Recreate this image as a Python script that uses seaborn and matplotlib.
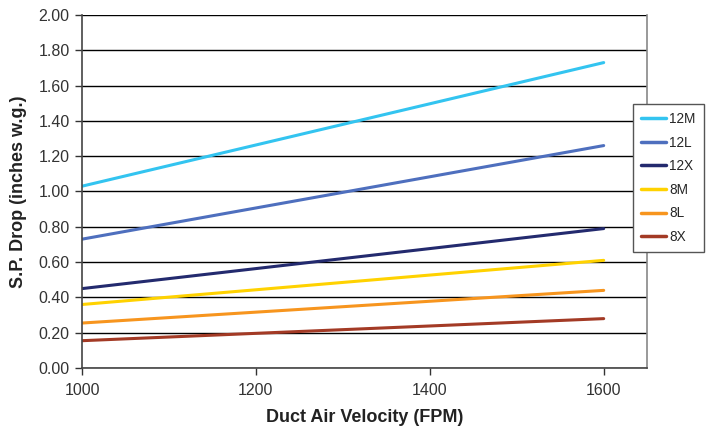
import numpy as np
import pandas as pd
import seaborn as sns
import matplotlib.pyplot as plt

# duct air velocity (FPM) and static pressure drop (inches w.g.)
velocity = [1000, 1600]
series_names = ['12M', '12L', '12X', '8M', '8L', '8X']
drop_12m = [1.03, 1.73]
drop_12l = [0.73, 1.26]
drop_12x = [0.45, 0.79]
drop_8m = [0.36, 0.61]
drop_8l = [0.255, 0.44]
drop_8x = [0.155, 0.28]
colors = ['#33c4f0', '#4e6fbe', '#232a6e', '#ffd200', '#f7951e', '#a33a25']

data = pd.DataFrame({
    'velocity': velocity * 6,
    'drop': drop_12m + drop_12l + drop_12x + drop_8m + drop_8l + drop_8x,
    'series': [s for s in series_names for _ in velocity],
})

sns.set_style("white")
plt.rcParams['font.family'] = ['Liberation Sans', 'DejaVu Sans']

fig = plt.figure(figsize=(7.1, 4.26), dpi=100)
ax = fig.add_axes([0.1155, 0.136, 0.796, 0.829])

ax.set_yticks(np.arange(0, 2.01, 0.2))
ax.grid(axis='y', color='black', linewidth=1.0)
ax.set_axisbelow(True)

sns.lineplot(data=data, x='velocity', y='drop', hue='series', hue_order=series_names,
             palette=colors, linewidth=2.2, ax=ax)

ax.set_xlim(1000, 1650)
ax.set_ylim(0, 2.0)
ax.set_xticks([1000, 1200, 1400, 1600])
ax.set_yticklabels(['%.2f' % v for v in np.arange(0, 2.01, 0.2)])
ax.tick_params(axis='both', labelsize=11.5, colors='#333333', length=5, width=1, direction='out')
ax.tick_params(axis='y', pad=4)
ax.tick_params(axis='x', pad=6)
ax.yaxis.set_ticks_position('left')
ax.xaxis.set_ticks_position('bottom')

for side in ['left', 'bottom']:
    ax.spines[side].set_color('#444444')
    ax.spines[side].set_linewidth(1.2)
ax.spines['right'].set_color('#888888')
ax.spines['right'].set_linewidth(1.2)
ax.spines['top'].set_visible(False)

ax.set_xlabel('Duct Air Velocity (FPM)', fontsize=13, fontweight='bold', color='#222222', labelpad=8)
ax.set_ylabel('S.P. Drop (inches w.g.)', fontsize=13, fontweight='bold', color='#222222', labelpad=8)

leg = ax.legend(loc='upper left', bbox_to_anchor=(633 / 710, 1 - 104 / 426),
                bbox_transform=fig.transFigure, borderaxespad=0, fontsize=9.8,
                frameon=True, fancybox=False, handlelength=1.8, handletextpad=0.25,
                labelspacing=0.7, borderpad=0.6)
leg.get_frame().set_edgecolor('#555555')
leg.get_frame().set_linewidth(1.0)
leg.get_frame().set_alpha(1)
for line in leg.get_lines():
    line.set_linewidth(2.5)

fig.savefig('out.png', dpi=100)
